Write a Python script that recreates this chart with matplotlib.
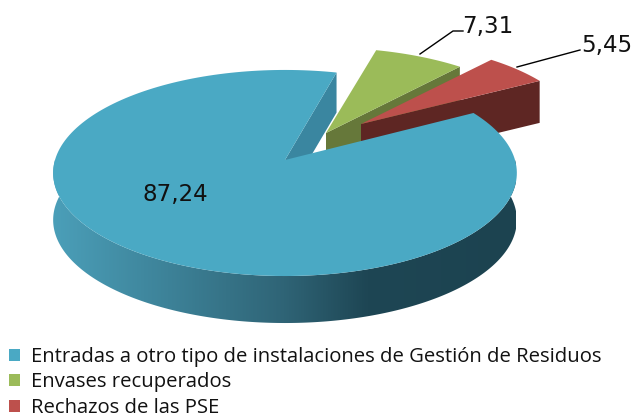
import numpy as np
import matplotlib
matplotlib.use('Agg')
import matplotlib.pyplot as plt
from matplotlib.colors import LinearSegmentedColormap
from matplotlib.patches import Patch, Polygon

categories = ['Entradas a otro tipo de instalaciones de Gestión de Residuos',
              'Envases recuperados',
              'Rechazos de las PSE']
values = [87.24, 7.31, 5.45]
colors = ['#4aa9c4', '#9bbb59', '#bd504c']
side_colors = ['#3a86a0', '#66783a', '#5e2623']

# pie set up in pixels, the 3d look is a simple perspective on the angle
first_angle = 60.5
persp = 0.126
apex = [(285, 160), (326, 133), (361, 124)]
radius_x = [230, 224, 218]
radius_y = [101.4, 96, 93]
depth = [47, 42, 42]
wall_depth = 40

fig = plt.figure(figsize=(6.35, 4.17), dpi=100)
ax = fig.add_axes([0, 0, 1, 1])


def rim(i, th):
    th = np.radians(th)
    d = 1 + persp * np.cos(th)
    x = apex[i][0] + radius_x[i] * np.sin(th) / d
    y = apex[i][1] - radius_y[i] * np.cos(th) / d
    return x, y


# slice angles from the values
spans = [v / sum(values) * 360 for v in values]
starts = [first_angle, first_angle + spans[0], first_angle + spans[0] + spans[1]]


def top_face(i):
    th = np.linspace(starts[i], starts[i] + spans[i], 200)
    x, y = rim(i, th)
    return np.r_[apex[i][0], x], np.r_[apex[i][1], y]


def cut_wall(i, th, d):
    x, y = rim(i, th)
    ax0, ay0 = apex[i]
    return [ax0, x, x, ax0], [ay0, y, y + d, ay0 + d]


# green and red first, the big slice sits in front of them
for i in [1, 2]:
    end = starts[i] + spans[i]
    wx, wy = cut_wall(i, end, depth[i])
    ax.fill(wx, wy, color=side_colors[i], lw=0)
    fx, fy = top_face(i)
    ax.fill(fx, fy, color=colors[i], lw=0)

# inner wall of the big slice
end = starts[0] + spans[0]
wx, wy = cut_wall(0, end, wall_depth)
ax.fill(wx, wy, color=side_colors[0], lw=0)

# outer side with the left to right shading
th = np.linspace(starts[0], end, 400)
x, y = rim(0, th)
side = Polygon(np.c_[np.r_[x, x[::-1]], np.r_[y, y[::-1] + depth[0]]], closed=True,
               fc='none', ec='none', transform=ax.transData)
ax.add_patch(side)
shade = LinearSegmentedColormap.from_list('shade', [(0, '#4b9fb9'), (0.25, '#3d8298'), (0.5, '#2f6476'),
                                                    (0.68, '#1e4654'), (1, '#1c4350')])
im = ax.imshow(np.linspace(0, 1, 256)[None, :], cmap=shade, extent=(52, 516, 330, 160), aspect='auto')
im.set_clip_path(side)

fx, fy = top_face(0)
ax.fill(fx, fy, color=colors[0], lw=0)

# labels
lab = [f'{v:.2f}'.replace('.', ',') for v in values]
ax.text(175, 194, lab[0], fontsize=16.6, ha='center', va='center', color='#111111')
ax.text(488, 26, lab[1], fontsize=16.6, ha='center', va='center', color='#111111')
ax.text(607, 45, lab[2], fontsize=16.6, ha='center', va='center', color='#111111')
ax.plot([420, 453, 463], [54, 31, 31], color='black', lw=1)
ax.plot([517, 580], [67, 50], color='black', lw=1)

handles = [Patch(fc=c, ec='none') for c in colors]
ax.legend(handles, categories, loc='upper left', bbox_to_anchor=(9, 347),
          bbox_transform=ax.transData, frameon=False, borderpad=0, borderaxespad=0,
          handlelength=0.56, handleheight=0.56, handletextpad=0.52, labelspacing=0.27,
          prop={'family': 'Open Sans', 'size': 14.6}, labelcolor='#111111')

ax.set_xlim(0, 635)
ax.set_ylim(417, 0)
ax.axis('off')

fig.savefig('out.png', dpi=100)
